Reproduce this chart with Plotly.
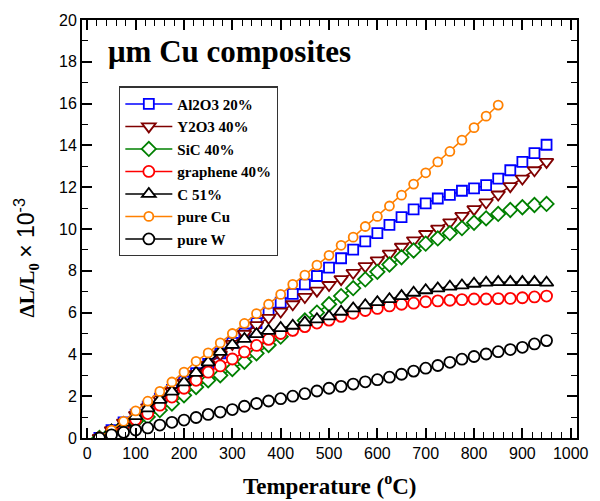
import plotly.graph_objects as go

# Temperature (°C) sample points
temps = [25, 50, 75, 100, 125, 150, 175, 200, 225, 250, 275, 300, 325, 350, 375, 400,
         425, 450, 475, 500, 525, 550, 575, 600, 625, 650, 675, 700, 725, 750, 775, 800,
         825, 850, 875, 900, 925, 950]
temps_cu = [25, 50, 75, 100, 125, 150, 175, 200, 225, 250, 275, 300, 325, 350, 375, 400,
            425, 450, 475, 500, 525, 550, 575, 600, 625, 650, 675, 700, 725, 750, 775, 800,
            825, 850]

al2o3 = [0.0, 0.38, 0.75, 1.12, 1.5, 1.88, 2.3, 2.7, 3.1, 3.55, 4.05, 4.55, 5.0, 5.5, 6.0, 6.48,
         6.9, 7.35, 7.75, 8.15, 8.6, 9.01, 9.41, 9.8, 10.2, 10.57, 10.94, 11.23, 11.46, 11.63, 11.83, 11.94,
         12.1, 12.41, 12.81, 13.21, 13.63, 14.03]
y2o3 = [0.0, 0.37, 0.74, 1.1, 1.47, 1.85, 2.25, 2.65, 3.05, 3.5, 4.0, 4.5, 4.98, 5.4, 5.75, 6.05,
        6.4, 6.75, 7.05, 7.32, 7.6, 7.9, 8.22, 8.5, 8.82, 9.15, 9.46, 9.76, 10.02, 10.32, 10.63, 10.95,
        11.27, 11.65, 12.05, 12.41, 12.81, 13.21]
sic = [0.0, 0.28, 0.6, 0.8, 1.01, 1.33, 1.65, 2.04, 2.44, 2.76, 3.0, 3.3, 3.65, 4.05, 4.45, 4.85,
       5.25, 5.62, 6.0, 6.4, 6.79, 7.17, 7.59, 7.95, 8.3, 8.65, 8.97, 9.3, 9.55, 9.8, 10.04, 10.3,
       10.51, 10.72, 10.91, 11.04, 11.15, 11.2]
graphene = [0.0, 0.3, 0.6, 0.88, 1.17, 1.57, 1.96, 2.38, 2.76, 3.15, 3.45, 3.78, 4.12, 4.43, 4.72, 5.0,
            5.15, 5.33, 5.5, 5.64, 5.82, 5.97, 6.1, 6.2, 6.32, 6.4, 6.45, 6.52, 6.56, 6.59, 6.62, 6.65,
            6.65, 6.67, 6.68, 6.71, 6.75, 6.79]
c51 = [0.0, 0.36, 0.72, 1.05, 1.42, 1.82, 2.22, 2.66, 3.12, 3.62, 4.12, 4.46, 4.74, 4.97, 5.13, 5.26,
       5.37, 5.53, 5.68, 5.82, 6.04, 6.2, 6.35, 6.5, 6.64, 6.79, 6.95, 7.07, 7.16, 7.24, 7.3, 7.38,
       7.43, 7.46, 7.46, 7.46, 7.46, 7.43]
pure_cu = [0.05, 0.38, 0.8, 1.3, 1.76, 2.23, 2.68, 3.15, 3.67, 4.07, 4.55, 5.0, 5.48, 5.95, 6.4, 6.87,
           7.35, 7.79, 8.27, 8.74, 9.22, 9.61, 10.12, 10.6, 11.1, 11.62, 12.15, 12.69, 13.21, 13.71, 14.25, 14.85,
           15.4, 15.93]
pure_w = [0.0, 0.15, 0.27, 0.38, 0.48, 0.62, 0.75, 0.86, 0.98, 1.13, 1.24, 1.36, 1.52, 1.65, 1.77, 1.88,
          2.0, 2.12, 2.25, 2.38, 2.47, 2.58, 2.69, 2.79, 2.91, 3.05, 3.2, 3.34, 3.47, 3.62, 3.77, 3.9,
          4.02, 4.13, 4.23, 4.34, 4.5, 4.66]

x_ticks = [0, 100, 200, 300, 400, 500, 600, 700, 800, 900, 1000]
y_ticks = [0, 2, 4, 6, 8, 10, 12, 14, 16, 18, 20]

series = [
    ("Al2O3 20%", temps, al2o3, "#0000FF", "square", 10),
    ("Y2O3 40%", temps, y2o3, "#800000", "triangle-down", 12),
    ("SiC 40%", temps, sic, "#008000", "diamond", 11),
    ("graphene 40%", temps, graphene, "#FF0000", "circle", 11),
    ("C 51%", temps, c51, "#000000", "triangle-up", 12),
    ("pure Cu", temps_cu, pure_cu, "#FF8000", "circle", 9),
    ("pure W", temps, pure_w, "#000000", "circle", 11),
]

fig = go.Figure()
for name, xs, ys, col, sym, sz in series:
    fig.add_trace(go.Scatter(
        x=xs, y=ys, name=name, mode="lines+markers",
        line=dict(color=col, width=1.5),
        marker=dict(symbol=sym, size=sz, color="white",
                    line=dict(color=col, width=1.8)),
    ))

axis_common = dict(
    showline=True, linecolor="black", linewidth=2, mirror="allticks",
    ticks="inside", tickcolor="black", tickwidth=1.5, ticklen=10,
    showgrid=False, zeroline=False,
    tickfont=dict(family="Liberation Sans, Arial", size=16, color="black"),
)

fig.update_xaxes(range=[-11, 1013], tickvals=x_ticks,
                 minor=dict(ticks="inside", dtick=20, tick0=0, ticklen=6,
                            tickcolor="black", tickwidth=1.2, showgrid=False),
                 **axis_common)
fig.update_yaxes(range=[0, 20], tickvals=y_ticks,
                 minor=dict(ticks="inside", dtick=1, tick0=0, ticklen=6,
                            tickcolor="black", tickwidth=1.2, showgrid=False),
                 **axis_common)

fig.update_layout(
    width=600, height=501,
    margin=dict(l=82, r=13, t=17, b=63),
    paper_bgcolor="white", plot_bgcolor="white",
    showlegend=True,
    legend=dict(
        x=0.075, y=0.841, xanchor="left", yanchor="top",
        bgcolor="white", bordercolor="#333", borderwidth=1.2,
        font=dict(family="Liberation Serif, Times New Roman", size=15, color="black",
                  weight="bold"),
        itemwidth=47, tracegroupgap=0,
    ),
    annotations=[
        dict(text="<b>μm Cu composites</b>", xref="paper", yref="paper",
             x=(106 - 82) / 505, y=(438 - 49) / 421, xanchor="left", yanchor="middle",
             showarrow=False,
             font=dict(family="Liberation Serif, Times New Roman", size=31, color="black")),
        dict(text="<b>Temperature (<sup>o</sup>C)</b>", xref="paper", yref="paper",
             x=0.5, y=(438 - 485) / 421, xanchor="center", yanchor="middle",
             showarrow=False,
             font=dict(family="Liberation Serif, Times New Roman", size=23, color="black")),
        dict(text="<b>ΔL/L<sub>0</sub></b> <span style='font-family:Liberation Sans;font-weight:normal;font-size:23px'>× 10<sup>-3</sup></span>",
             xref="paper", yref="paper",
             x=(25 - 82) / 505, y=(438 - 257) / 421, xanchor="center", yanchor="middle",
             textangle=-90, showarrow=False,
             font=dict(family="Liberation Serif, Times New Roman", size=21, color="black")),
    ],
)

fig.write_html("out.html")
